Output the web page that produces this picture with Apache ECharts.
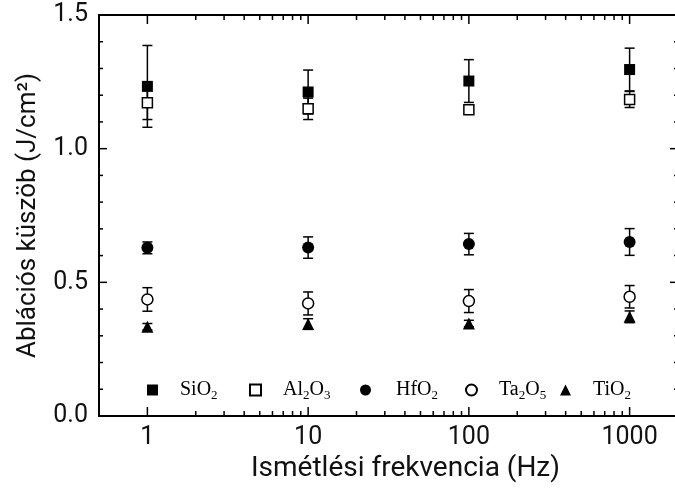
<!DOCTYPE html>
<html>
<head>
<meta charset="utf-8">
<script src="https://cdn.jsdelivr.net/npm/echarts@6/dist/echarts.min.js"></script>
<style>
html,body{margin:0;padding:0;background:#fff;}
#c{width:675px;height:490px;}
</style>
</head>
<body>
<div id="c"></div>
<script>
// Repetition frequency (Hz)
var freqs = [1, 10, 100, 1000];
// Ablation thresholds (J/cm^2) and their errors
var sio2 = [1.233, 1.212, 1.253, 1.296];
var sio2Err = [0.153, 0.082, 0.080, 0.080];
var al2o3 = [1.172, 1.149, 1.146, 1.184];
var al2o3Err = [0.063, 0.040, 0.015, 0.030];
var hfo2 = [0.629, 0.630, 0.643, 0.651];
var hfo2Err = [0.022, 0.040, 0.040, 0.050];
var ta2o5 = [0.436, 0.421, 0.430, 0.446];
var ta2o5Err = [0.044, 0.043, 0.043, 0.042];
var tio2 = [0.334, 0.344, 0.346, 0.371];
var tio2Err = [0.012, 0.020, 0.012, 0.022];

var seriesNames = ['SiO2', 'Al2O3', 'HfO2', 'Ta2O5', 'TiO2'];
var richNames = {
  'SiO2': 'SiO{s|2}',
  'Al2O3': 'Al{s|2}O{s|3}',
  'HfO2': 'HfO{s|2}',
  'Ta2O5': 'Ta{s|2}O{s|5}',
  'TiO2': 'TiO{s|2}'
};
// Tick values
var majorTicks = [1, 10, 100, 1000];
var minorTicks = [2,3,4,5,6,7,8,9,20,30,40,50,60,70,80,90,200,300,400,500,600,700,800,900];
var yMajorTicks = [0, 0.5, 1.0, 1.5];
var yMinorTicks = [0.1,0.2,0.3,0.4,0.6,0.7,0.8,0.9,1.1,1.2,1.3,1.4];
var xTitle = 'Ismétlési frekvencia (Hz)';
var yTitle = 'Ablációs küszöb (J/cm²)';

var xRange = {min: 0.5, max: 2000};
var yRange = {min: 0, max: 1.5, interval: 0.5};

function pts(vals) { return freqs.map(function (f, i) { return [f, vals[i]]; }); }
function errPts(vals, errs) { return freqs.map(function (f, i) { return [f, vals[i] - errs[i], vals[i] + errs[i]]; }); }

var lineSt = function (w) { return {stroke: '#000', lineWidth: w, fill: null, lineCap: 'square'}; };

function errSeries(vals, errs) {
  return {
    type: 'custom',
    xAxisIndex: 0, yAxisIndex: 0,
    silent: true,
    z: 1,
    data: errPts(vals, errs),
    renderItem: function (params, api) {
      var x = api.value(0);
      var lo = api.coord([x, api.value(1)]);
      var hi = api.coord([x, api.value(2)]);
      var hw = 5;
      var st = {stroke: '#000', lineWidth: 1.5, fill: null};
      return {
        type: 'group',
        children: [
          {type: 'line', shape: {x1: lo[0], y1: lo[1], x2: hi[0], y2: hi[1]}, style: st},
          {type: 'line', shape: {x1: lo[0] - hw, y1: lo[1], x2: lo[0] + hw, y2: lo[1]}, style: st},
          {type: 'line', shape: {x1: hi[0] - hw, y1: hi[1], x2: hi[0] + hw, y2: hi[1]}, style: st}
        ]
      };
    }
  };
}

// frame of the plot, drawn through the axes' scales
var frameSeries = {
  type: 'custom', silent: true, z: 4, clip: false,
  data: [[xRange.min, yRange.min]],
  renderItem: function (params, api) {
    var bl = api.coord([xRange.min, yRange.min]);
    var tl = api.coord([xRange.min, yRange.max]);
    var br = api.coord([xRange.max, yRange.min]);
    var tr = api.coord([xRange.max, yRange.max]);
    var st = {stroke: '#000', lineWidth: 2, fill: null, lineCap: 'square'};
    return {type: 'group', children: [
      {type: 'line', shape: {x1: bl[0], y1: bl[1], x2: br[0], y2: br[1]}, style: st},
      {type: 'line', shape: {x1: tl[0], y1: tl[1], x2: tr[0], y2: tr[1]}, style: st},
      {type: 'line', shape: {x1: bl[0], y1: bl[1], x2: tl[0], y2: tl[1]}, style: st},
      {type: 'line', shape: {x1: br[0], y1: br[1], x2: tr[0], y2: tr[1]}, style: st}
    ]};
  }
};

// inward ticks on bottom/top (x) and left/right (y)
var xTickData = majorTicks.map(function (v) { return [v, yRange.min, 9]; })
  .concat(minorTicks.map(function (v) { return [v, yRange.min, 5]; }));
var yTickData = yMajorTicks.map(function (v) { return [xRange.min, v, 8]; })
  .concat(yMinorTicks.map(function (v) { return [xRange.min, v, 4]; }));

var xTickSeries = {
  type: 'custom', silent: true, z: 4, clip: false,
  data: xTickData,
  renderItem: function (params, api) {
    var v = api.value(0), len = api.value(2);
    var b = api.coord([v, yRange.min]);
    var t = api.coord([v, yRange.max]);
    var st = {stroke: '#000', lineWidth: 1.5, fill: null};
    return {type: 'group', children: [
      {type: 'line', shape: {x1: b[0], y1: b[1], x2: b[0], y2: b[1] - len}, style: st},
      {type: 'line', shape: {x1: t[0], y1: t[1], x2: t[0], y2: t[1] + len}, style: st}
    ]};
  }
};
var yTickSeries = {
  type: 'custom', silent: true, z: 4, clip: false,
  data: yTickData,
  renderItem: function (params, api) {
    var v = api.value(1), len = api.value(2);
    var l = api.coord([xRange.min, v]);
    var r = api.coord([xRange.max, v]);
    var st = {stroke: '#000', lineWidth: 1.5, fill: null};
    return {type: 'group', children: [
      {type: 'line', shape: {x1: l[0], y1: l[1], x2: l[0] + len, y2: l[1]}, style: st},
      {type: 'line', shape: {x1: r[0], y1: r[1], x2: r[0] - len, y2: r[1]}, style: st}
    ]};
  }
};

var markerDefs = [
  {name: 'SiO2', vals: sio2, symbol: 'rect', size: 11, filled: true},
  {name: 'Al2O3', vals: al2o3, symbol: 'rect', size: 10, filled: false},
  {name: 'HfO2', vals: hfo2, symbol: 'circle', size: 12, filled: true},
  {name: 'Ta2O5', vals: ta2o5, symbol: 'circle', size: 11, filled: false},
  {name: 'TiO2', vals: tio2, symbol: 'triangle', size: 12, filled: true}
];

var series = [
  frameSeries, xTickSeries, yTickSeries,
  errSeries(sio2, sio2Err), errSeries(al2o3, al2o3Err), errSeries(hfo2, hfo2Err),
  errSeries(ta2o5, ta2o5Err), errSeries(tio2, tio2Err)
];
markerDefs.forEach(function (d) {
  series.push({
    type: 'scatter',
    name: d.name,
    xAxisIndex: 0, yAxisIndex: 0,
    symbol: d.symbol,
    symbolSize: d.size,
    z: 5,
    data: pts(d.vals),
    itemStyle: d.filled ? {color: '#000', opacity: 1} : {color: '#fff', borderColor: '#000', borderWidth: 1.5, opacity: 1}
  });
});

var legendLeft = [147, 249, 360, 465, 560];
var legendTextPad = [17, 17, 20, 17, 17];
var legends = seriesNames.map(function (n, i) {
  return {
    data: [n],
    left: legendLeft[i],
    top: 380,
    padding: 0,
    itemWidth: 11,
    itemHeight: 11,
    selectedMode: false,
    formatter: function (name) { return richNames[name]; },
    textStyle: {
      fontFamily: 'Liberation Serif',
      fontSize: 20,
      color: '#000',
      padding: [0, 0, 0, legendTextPad[i]],
      rich: {
        s: {fontFamily: 'Liberation Serif', fontSize: 13, color: '#000', padding: [12, 0, 0, 0]}
      }
    }
  };
});

var labelFont = {fontFamily: 'Roboto', fontSize: 25, color: '#111'};

var chart = echarts.init(document.getElementById('c'));
chart.setOption({
  animation: false,
  backgroundColor: '#fff',
  grid: {left: 99, width: 579, top: 15, height: 401, containLabel: false, outerBoundsMode: 'none'},
  legend: legends,
  xAxis: [{
    type: 'log', logBase: 10, min: xRange.min, max: xRange.max, position: 'bottom',
    axisLine: {show: false, onZero: false},
    axisTick: {show: false},
    axisLabel: Object.assign({customValues: majorTicks, margin: 9, formatter: function (v) { return String(v); }}, labelFont),
    splitLine: {show: false},
    minorTick: {show: false},
    name: xTitle,
    nameLocation: 'middle',
    nameGap: 37,
    nameTextStyle: {fontFamily: 'Roboto', fontSize: 28, color: '#111', padding: [0, 0, 0, 34]}
  }],
  yAxis: [{
    type: 'value', min: yRange.min, max: yRange.max, interval: yRange.interval, position: 'left',
    axisLine: {show: false, onZero: false},
    axisTick: {show: false},
    minorTick: {show: false},
    axisLabel: Object.assign({margin: 11, formatter: function (v) { return v.toFixed(1); }}, labelFont),
    splitLine: {show: false},
    name: yTitle,
    nameLocation: 'middle',
    nameGap: 58,
    nameTextStyle: {fontFamily: 'Roboto', fontSize: 26, color: '#111'}
  }],
  series: series
});
</script>
</body>
</html>
